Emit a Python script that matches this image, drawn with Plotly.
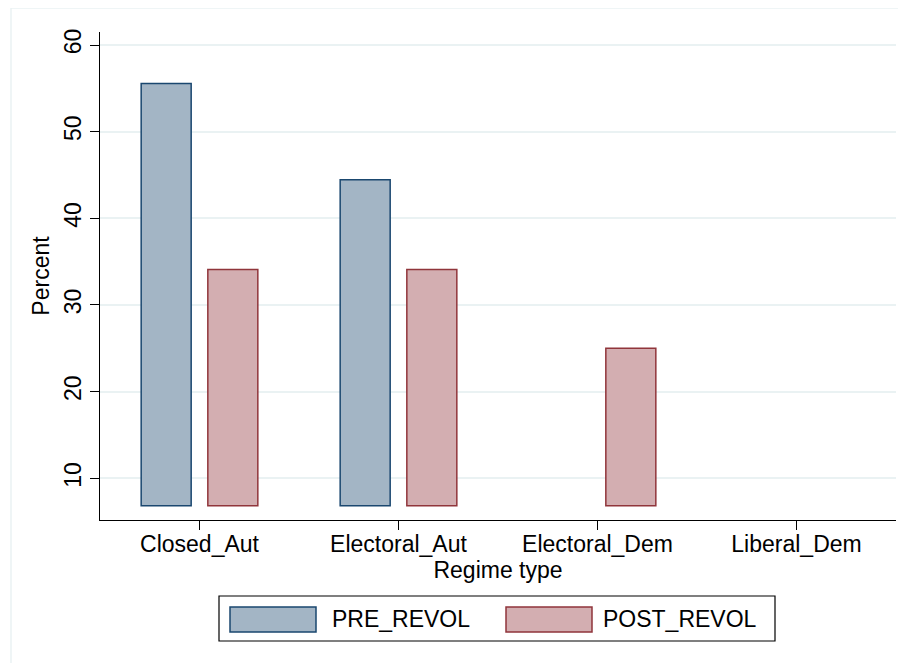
import plotly.graph_objects as go

categories = ["Closed_Aut", "Electoral_Aut", "Electoral_Dem", "Liberal_Dem"]
pre_revol = [55.56, 44.44, None, None]
post_revol = [34.09, 34.09, 25.00, 6.82]
series_names = ["PRE_REVOL", "POST_REVOL"]
y_ticks = [10, 20, 30, 40, 50, 60]

# Stata draws bars from the smallest value
all_vals = [v for v in pre_revol + post_revol if v is not None]
BASE = min(all_vals)

# page body has an 8px margin, so the figure is sized to fill the rest of the window
OFF = 8
W, H = 906 - OFF, 663 - OFF
L, R, T, B = 92, 10, 24, 143
PW, PH = W - L - R, H - T - B

def px(x):  # screen x -> paper
    return (x - OFF - L) / PW

def py(y):  # screen y -> paper
    return (H - B - (y - OFF)) / PH

FONT = "Liberation Sans, Arial, Helvetica, sans-serif"
FS = 23

pre_fill, pre_line = "#A3B5C5", "#1A476F"
post_fill, post_line = "#D3AEB1", "#90353B"
grid_col = "#EAF2F3"

def lengths(vals):
    return [None if v is None else v - BASE for v in vals]

def outline(vals):
    return [0 if (v is None or v - BASE <= 0) else 1.5 for v in vals]

fig = go.Figure()
fig.add_trace(go.Bar(
    x=categories, y=lengths(pre_revol), base=BASE,
    name=series_names[0], marker=dict(color=pre_fill, line=dict(color=pre_line, width=outline(pre_revol))),
))
fig.add_trace(go.Bar(
    x=categories, y=lengths(post_revol), base=BASE,
    name=series_names[1], marker=dict(color=post_fill, line=dict(color=post_line, width=outline(post_revol))),
))

shapes = [
    # outer frame (top/left visible)
    dict(type="rect", xref="paper", yref="paper", x0=px(11), x1=px(915), y0=py(8), y1=py(680),
         line=dict(color=grid_col, width=1.5), fillcolor="rgba(0,0,0,0)", layer="below"),
    # legend box
    dict(type="rect", xref="paper", yref="paper", x0=px(219), x1=px(775), y0=py(641), y1=py(596),
         line=dict(color="#000000", width=1.2), fillcolor="white"),
    dict(type="rect", xref="paper", yref="paper", x0=px(230), x1=px(316), y0=py(632), y1=py(607),
         line=dict(color=pre_line, width=1.5), fillcolor=pre_fill),
    dict(type="rect", xref="paper", yref="paper", x0=px(506), x1=px(592), y0=py(632), y1=py(607),
         line=dict(color=post_line, width=1.5), fillcolor=post_fill),
]
annotations = [
    dict(text=series_names[0], xref="paper", yref="paper", x=px(330), y=py(619), xanchor="left",
         yanchor="middle", showarrow=False, font=dict(size=FS, color="black", family=FONT)),
    dict(text=series_names[1], xref="paper", yref="paper", x=px(601), y=py(619), xanchor="left",
         yanchor="middle", showarrow=False, font=dict(size=FS, color="black", family=FONT)),
]

fig.update_layout(
    width=W, height=H,
    margin=dict(l=L, r=R, t=T, b=B, autoexpand=False),
    paper_bgcolor="white", plot_bgcolor="white",
    font=dict(family=FONT, size=FS, color="black"),
    barmode="group", bargap=0.33, bargroupgap=0.25,
    showlegend=False,
    shapes=shapes, annotations=annotations,
    xaxis=dict(
        title=dict(text="Regime type", font=dict(size=FS), standoff=0),
        automargin=False,
        showline=True, linecolor="black", linewidth=1.2, mirror=False,
        ticks="outside", ticklen=9, tickcolor="black", tickwidth=1.2,
        ticklabelstandoff=-6,
        showgrid=False, zeroline=False, tickfont=dict(size=FS),
        range=[-0.5, 3.5],
    ),
    yaxis=dict(
        title=dict(text="Percent", font=dict(size=FS), standoff=3),
        automargin=False,
        range=[5.19, 61.5], tickvals=y_ticks, tickangle=-90,
        showline=True, linecolor="black", linewidth=1.2,
        ticks="outside", ticklen=9, tickcolor="black", tickwidth=1.2,
        showgrid=True, gridcolor=grid_col, gridwidth=1.5, zeroline=False,
        tickfont=dict(size=FS),
    ),
)

fig.write_html("out.html")
